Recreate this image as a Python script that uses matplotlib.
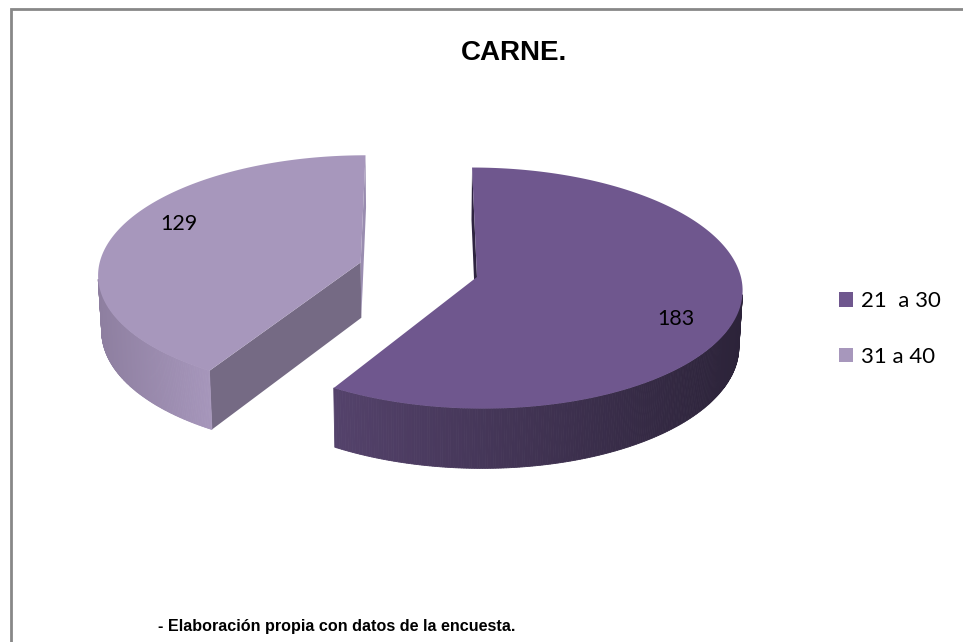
import numpy as np
import matplotlib.pyplot as plt
from matplotlib.patches import Polygon, Patch

# datos
categorias = ['21  a 30', '31 a 40']
valores = [183, 129]
colores_top = ['#6f578e', '#a797bc']
colores_pared = [('#54426b', '#2c2339'), ('#8e7fa0', '#a696bb')]
colores_corte = [('#2e2440', '#3a2e4f'), ('#756a84', '#9a8db0')]

# camara / geometria del pastel 3D (coordenadas en pixeles)
W, H = 963, 642
phi = np.arcsin(0.46)
D = 9.76
f = 2547
grosor = 0.24
explode = 0.23
cx, cy = 418.5, 297.6
cam = np.array([0.0, -D * np.cos(phi), D * np.sin(phi)])


def proj(x, y, z):
    d = D + y * np.cos(phi) - z * np.sin(phi)
    sx = cx + f * x / d
    sy = cy - f * (z * np.cos(phi) + y * np.sin(phi)) / d
    return sx, sy


def mezcla(c1, c2, t):
    a = np.array(plt.matplotlib.colors.to_rgb(c1))
    b = np.array(plt.matplotlib.colors.to_rgb(c2))
    return tuple(a + (b - a) * t)


fig = plt.figure(figsize=(W / 100, H / 100), dpi=100)
ax = fig.add_axes([0, 0, 1, 1])
ax.set_xlim(0, W)
ax.set_ylim(H, 0)
ax.axis('off')

total = sum(valores)
inicio = 90.0
rebanadas = []
for i, v in enumerate(valores):
    a0 = inicio
    a1 = inicio - v / total * 360
    inicio = a1
    mid = np.radians((a0 + a1) / 2)
    ox, oy = explode * np.cos(mid), explode * np.sin(mid)
    rebanadas.append((i, a0, a1, ox, oy))

zt, zb = grosor / 2, -grosor / 2

# dibujar de atras hacia adelante
for i, a0, a1, ox, oy in sorted(rebanadas, key=lambda r: -r[4]):
    # caras de corte radiales
    for k, (ang, nang) in enumerate([(a0, a0 + 90), (a1, a1 - 90)]):
        n = np.array([np.cos(np.radians(nang)), np.sin(np.radians(nang)), 0])
        if np.dot(n, cam - np.array([ox, oy, 0])) > 0:
            t = np.radians(ang)
            ex, ey = ox + np.cos(t), oy + np.sin(t)
            pts = [proj(ox, oy, zt), proj(ex, ey, zt), proj(ex, ey, zb), proj(ox, oy, zb)]
            ax.add_patch(Polygon(pts, closed=True, facecolor=colores_corte[i][k],
                                 edgecolor='none', zorder=2))
    # pared exterior con degradado
    ts = np.radians(np.linspace(a0, a1, 400))
    vis = []
    for t in ts:
        dot = -ox * np.cos(t) - oy * np.sin(t) - 1 - D * np.cos(phi) * np.sin(t)
        vis.append(dot > 0)
    xs_vis = [proj(ox + np.cos(t), oy + np.sin(t), zt)[0] for t, v in zip(ts, vis) if v]
    if xs_vis:
        xmin, xmax = min(xs_vis), max(xs_vis)
        for j in range(len(ts) - 1):
            if not (vis[j] and vis[j + 1]):
                continue
            t1, t2 = ts[j], ts[j + 1]
            p1 = proj(ox + np.cos(t1), oy + np.sin(t1), zt)
            p2 = proj(ox + np.cos(t2), oy + np.sin(t2), zt)
            p3 = proj(ox + np.cos(t2), oy + np.sin(t2), zb)
            p4 = proj(ox + np.cos(t1), oy + np.sin(t1), zb)
            frac = ((p1[0] + p2[0]) / 2 - xmin) / max(xmax - xmin, 1)
            c = mezcla(colores_pared[i][0], colores_pared[i][1], frac)
            ax.add_patch(Polygon([p1, p2, p3, p4], closed=True, facecolor=c,
                                 edgecolor=c, linewidth=0.6, zorder=3))
    # tapa superior
    pts = [proj(ox, oy, zt)] + [proj(ox + np.cos(t), oy + np.sin(t), zt) for t in ts]
    ax.add_patch(Polygon(pts, closed=True, facecolor=colores_top[i],
                         edgecolor='none', zorder=4))
    # etiqueta de valor
    lt = np.radians((a0 + a1) / 2 - 9.4)
    lx, ly = proj(ox + 0.8 * np.cos(lt), oy + 0.8 * np.sin(lt), zt)
    ax.text(lx, ly, str(valores[i]), ha='center', va='center', fontsize=15.5,
            family=['Lato', 'DejaVu Sans'], color='black', zorder=5)

# titulo y fuente
ax.text(514, 53, 'CARNE.', ha='center', va='center', fontsize=20,
        fontweight='bold', family='Liberation Sans')
ax.text(158, 626, '- Elaboración propia con datos de la encuesta.', ha='left',
        va='center', fontsize=11.6, fontweight='bold', family='Liberation Sans')

# borde del area del grafico
ax.plot([10.5, 10.5, W + 5], [H + 5, 8.5, 8.5], color='#888888', lw=2,
        solid_joinstyle='miter', clip_on=False)

# leyenda
handles = [Patch(facecolor=c, edgecolor='none') for c in colores_top]
leg = ax.legend(handles, categorias, loc='center left',
                bbox_to_anchor=(819 / W, 1 - 329 / H), frameon=False,
                prop={'family': 'Lato', 'size': 16}, handlelength=0.62,
                handleheight=0.62, handletextpad=0.35, labelspacing=1.6)

fig.savefig('out.png', dpi=100)
